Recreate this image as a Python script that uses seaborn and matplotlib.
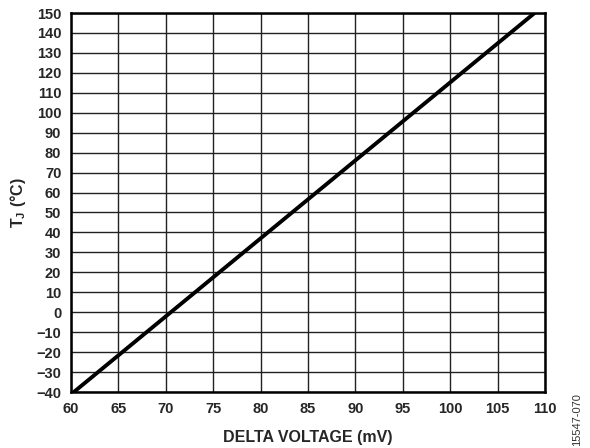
import matplotlib
matplotlib.use("Agg")
import matplotlib.pyplot as plt
import seaborn as sns
import pandas as pd

# Data
delta_voltage_mv = [60.3, 108.9]
tj_c = [-40, 150]
x_ticks = list(range(60, 111, 5))
y_ticks = list(range(-40, 151, 10))

sns.set_style("white")
plt.rcParams['font.family'] = ['Liberation Sans', 'DejaVu Sans']
plt.rcParams['mathtext.fontset'] = 'custom'
plt.rcParams['mathtext.rm'] = 'Liberation Sans:bold'
plt.rcParams['mathtext.bf'] = 'Liberation Sans:bold'
plt.rcParams['mathtext.it'] = 'Liberation Sans:bold'

df = pd.DataFrame({"dv": delta_voltage_mv, "tj": tj_c})

fig = plt.figure(figsize=(5.9, 4.48), dpi=100)
ax = fig.add_axes([71/590, 1-392/448, (545-71)/590, (392-13)/448])

sns.lineplot(data=df, x="dv", y="tj", ax=ax, color="black", linewidth=2.8, zorder=5)

ax.set_xlim(60, 110)
ax.set_ylim(-40, 150)
ax.set_xticks(x_ticks)
ax.set_yticks(y_ticks)
ax.set_xticklabels([str(v) for v in x_ticks], fontweight="bold", fontsize=10.5)
ax.set_yticklabels([str(v).replace("-", "\u2212") for v in y_ticks], fontweight="bold", fontsize=10.5)
ax.tick_params(axis="both", length=0)
ax.tick_params(axis="x", pad=7)
ax.tick_params(axis="y", pad=7)

ax.grid(True, color="#222222", linewidth=1.0)
ax.set_axisbelow(True)
for s in ax.spines.values():
    s.set_color("black")
    s.set_linewidth(1.8)
    s.set_visible(True)

ax.set_xlabel("DELTA VOLTAGE (mV)", fontweight="bold", fontsize=11.5, labelpad=10)
ax.set_ylabel(r"T$_{\mathregular{J}}$ (°C)", fontweight="bold", fontsize=11.5, labelpad=6)

fig.text(577/590, 1-420/448, "15547-070", rotation=90, fontsize=8, color="#333333",
         ha="center", va="center")

fig.savefig("out.png", dpi=100)
